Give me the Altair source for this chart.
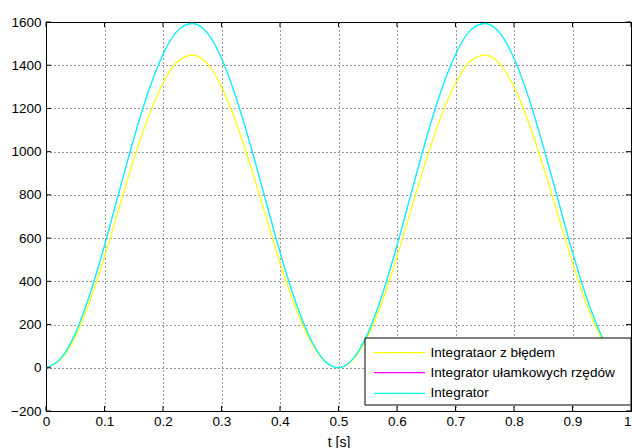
import altair as alt
import pandas as pd

# ---- data ----
T = [0.0, 0.025, 0.05, 0.075, 0.1, 0.125, 0.15, 0.175, 0.2, 0.225, 0.25,
     0.275, 0.3, 0.325, 0.35, 0.375, 0.4, 0.425, 0.45, 0.475, 0.5,
     0.525, 0.55, 0.575, 0.6, 0.625, 0.65, 0.675, 0.7, 0.725, 0.75,
     0.775, 0.8, 0.825, 0.85, 0.875, 0.9, 0.925, 0.95, 0.975, 1.0]

YELLOW = [0, 38, 144, 309, 514, 740, 963, 1161, 1317, 1417, 1447,
          1410, 1301, 1135, 931, 709, 486, 289, 133, 33, 0,
          38, 144, 309, 514, 740, 963, 1161, 1317, 1417, 1447,
          1410, 1301, 1135, 931, 709, 486, 289, 133, 33, 0]

MAGENTA = [0, 42, 158, 340, 566, 815, 1060, 1278, 1450, 1560, 1593,
           1552, 1432, 1250, 1025, 780, 535, 318, 146, 36, 0,
           42, 158, 340, 566, 815, 1060, 1278, 1450, 1560, 1593,
           1552, 1432, 1250, 1025, 780, 535, 318, 146, 36, 0]

CYAN = [0, 42, 158, 340, 566, 815, 1060, 1278, 1450, 1560, 1593,
        1552, 1432, 1250, 1025, 780, 535, 318, 146, 36, 0,
        42, 158, 340, 566, 815, 1060, 1278, 1450, 1560, 1593,
        1552, 1432, 1250, 1025, 780, 535, 318, 146, 36, 0]

NAMES = ["Integrataor z błędem", "Integrator ułamkowych rzędów", "Integrator"]
COLORS = ["#ffff00", "#ff00ff", "#00ffff"]

X_TICKS = [0, 0.1, 0.2, 0.3, 0.4, 0.5, 0.6, 0.7, 0.8, 0.9, 1]
Y_TICKS = [-200, 0, 200, 400, 600, 800, 1000, 1200, 1400, 1600]

FONT = "Liberation Sans"
W, H = 585, 389

xscale = alt.Scale(domain=[0, 1], nice=False, zero=False)
yscale = alt.Scale(domain=[-200, 1600], nice=False, zero=False)

xaxis = alt.Axis(values=X_TICKS, format="~g", title="t [s]",
                 grid=True, gridDash=[1, 3], gridColor="#000000",
                 gridOpacity=0.8, ticks=False, domain=False,
                 labelFont=FONT, labelFontSize=13.5, labelColor="#000",
                 labelPadding=3, labelFlush=False,
                 labelAlign={"expr": "datum.value >= 1 ? 'right' : 'center'"},
                 titleFont=FONT, titleFontSize=14, titleFontWeight="normal",
                 titleColor="#000", titleY=24, titleBaseline="top")
yaxis = alt.Axis(values=Y_TICKS, format="d", title=None,
                 grid=True, gridDash=[1, 3], gridColor="#000000",
                 gridOpacity=0.8, ticks=False, domain=False,
                 labelFont=FONT, labelFontSize=13.5, labelColor="#000",
                 labelPadding=5, labelFlush=False)

X = alt.X("t:Q", scale=xscale, axis=xaxis)
Y = alt.Y("v:Q", scale=yscale, axis=yaxis)

widths = [1.2, 0.6, 1.3]
line_layers = []
for name, col, vals, sw in zip(NAMES, COLORS, [YELLOW, MAGENTA, CYAN], widths):
    d = pd.DataFrame({"t": T, "v": vals})
    line_layers.append(
        alt.Chart(d).mark_line(color=col, strokeWidth=sw, interpolate="monotone")
        .encode(x=X, y=Y))

xt = pd.DataFrame({"t": X_TICKS})
yt = pd.DataFrame({"v": Y_TICKS})
tick_b = alt.Chart(xt).mark_rule(color="black", strokeWidth=1).encode(
    x=X, y=alt.value(H), y2=alt.value(H - 5))
tick_t = alt.Chart(xt).mark_rule(color="black", strokeWidth=1).encode(
    x=X, y=alt.value(0), y2=alt.value(5))
tick_l = alt.Chart(yt).mark_rule(color="black", strokeWidth=1).encode(
    y=Y, x=alt.value(0), x2=alt.value(5))
tick_r = alt.Chart(yt).mark_rule(color="black", strokeWidth=1).encode(
    y=Y, x=alt.value(W), x2=alt.value(W - 5))

# ---- legend box ----
LX0, LX1, LY0, LY1 = 319, W, 316, 383
ROW_Y = [330.7, 350.7, 371.3]
box = alt.Chart(pd.DataFrame({"a": [0]})).mark_rect(
    fill="white", stroke="black", strokeWidth=1).encode(
    x=alt.value(LX0), x2=alt.value(LX1), y=alt.value(LY0), y2=alt.value(LY1))

legend_layers = [box]
for name, col, ry in zip(NAMES, COLORS, ROW_Y):
    legend_layers.append(
        alt.Chart(pd.DataFrame({"a": [0]})).mark_rule(color=col, strokeWidth=1.2).encode(
            x=alt.value(328), x2=alt.value(379), y=alt.value(ry)))
    legend_layers.append(
        alt.Chart(pd.DataFrame({"a": [0]})).mark_text(
            align="left", baseline="middle", font=FONT, fontSize=13.6, color="black").encode(
            x=alt.value(384.5), y=alt.value(ry), text=alt.value(name)))

chart = alt.layer(*line_layers, tick_b, tick_t, tick_l, tick_r, *legend_layers).properties(
    width=W, height=H,
    autosize=alt.AutoSizeParams(type="none"),
    padding={"left": 46, "top": 22, "right": 1, "bottom": 37},
    background="white",
).configure_view(stroke="black", strokeWidth=1)

chart.save("out.html", embed_options={"renderer": "svg", "actions": False})
